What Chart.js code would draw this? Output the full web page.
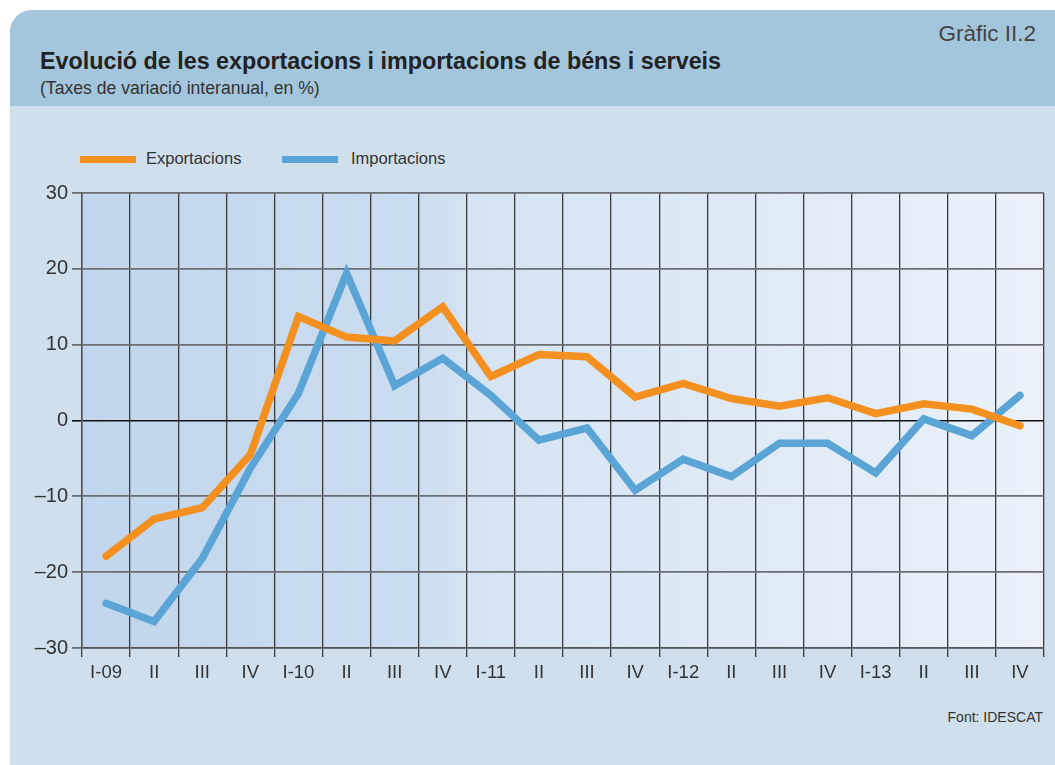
<!DOCTYPE html>
<html>
<head>
<meta charset="utf-8">
<script src="https://cdn.jsdelivr.net/npm/chart.js@4/dist/chart.umd.min.js"></script>
<style>
  body { margin: 0; background: #fff; font-family: "Liberation Sans", Arial, sans-serif; }
  #panel { position: absolute; left: 10px; top: 10px; width: 1045px; height: 755px;
           background: #cfe0ec; border-top-left-radius: 22px; overflow: hidden; }
  #header { position: absolute; left: 0; top: 0; width: 100%; height: 96px; background: #a3c6dc; }
  #title { position: absolute; left: 30px; top: 38px; font-size: 23.3px; font-weight: bold; color: #222; }
  #subtitle { position: absolute; left: 30px; top: 68px; font-size: 17.6px; color: #333; }
  #num { position: absolute; right: 19px; top: 11px; font-size: 22.5px; color: #444; }
  .leg { position: absolute; top: 139px; font-size: 16.5px; color: #333; }
  .sw { position: absolute; top: 146px; height: 7px; width: 56px; }
  #source { position: absolute; right: 12px; top: 699px; font-size: 14px; color: #333; }
  canvas { position: absolute; left: 0; top: 0; }
</style>
</head>
<body>
<div id="panel">
  <div id="header"></div>
  <div id="title">Evolució de les exportacions i importacions de béns i serveis</div>
  <div id="subtitle">(Taxes de variació interanual, en %)</div>
  <div id="num">Gràfic II.2</div>
  <div class="sw" style="left:70px;background:#f39020"></div>
  <div class="leg" style="left:136px">Exportacions</div>
  <div class="sw" style="left:272px;background:#5aa4d6"></div>
  <div class="leg" style="left:341px">Importacions</div>
  <div id="source">Font: IDESCAT</div>
</div>
<canvas id="chart" width="1055" height="765"></canvas>
<script>
const quarters = ['I-09','II','III','IV','I-10','II','III','IV','I-11','II','III','IV','I-12','II','III','IV','I-13','II','III','IV'];
const exportacions = [-17.9,-13.0,-11.5,-4.5,13.7,11.0,10.5,15.0,5.8,8.7,8.4,3.1,4.9,2.9,1.9,3.0,0.9,2.2,1.5,-0.7];
const importacions = [-24.1,-26.5,-18.2,-6.3,3.6,19.4,4.6,8.2,3.3,-2.6,-1.0,-9.2,-5.1,-7.4,-3.0,-3.0,-6.9,0.2,-2.0,3.3];
const yTicks = [-30,-20,-10,0,10,20,30];

const plotBg = {
  id: 'plotBg',
  beforeDraw(chart) {
    const {ctx, chartArea: a} = chart;
    const g = ctx.createLinearGradient(a.left, 0, a.right, 0);
    g.addColorStop(0, '#c1d6ec');
    g.addColorStop(0.35, '#cbddf0');
    g.addColorStop(0.4, '#d5e3f2');
    g.addColorStop(1, '#eaf1f9');
    ctx.save();
    ctx.fillStyle = g;
    ctx.fillRect(a.left, a.top, a.right - a.left, a.bottom - a.top);
    ctx.restore();
  }
};

new Chart(document.getElementById('chart'), {
  type: 'line',
  data: {
    labels: quarters,
    datasets: [
      { label: 'Exportacions', data: exportacions, borderColor: '#f39020', borderWidth: 7.5,
        pointRadius: 0, borderCapStyle: 'round', tension: 0 },
      { label: 'Importacions', data: importacions, borderColor: '#5aa4d6', borderWidth: 7.5,
        pointRadius: 0, borderCapStyle: 'round', tension: 0 }
    ]
  },
  options: {
    responsive: false,
    animation: false,
    layout: { padding: { top: 193, right: 11, left: 0, bottom: 0 } },
    plugins: { legend: { display: false }, tooltip: { enabled: false } },
    scales: {
      x: {
        offset: true,
        grid: { offset: true, color: '#3a3a3a', lineWidth: 1.3, tickLength: 9, drawOnChartArea: true },
        border: { color: '#555', width: 1.5 },
        ticks: { color: '#333', font: { family: 'Liberation Sans', size: 18.5 }, padding: 5, maxRotation: 0, autoSkip: false },
        afterFit(s) { s.height = 117; }
      },
      y: {
        min: -30, max: 30,
        afterBuildTicks(s) { s.ticks = yTicks.map(v => ({ value: v })); },
        grid: {
          color: ctx => ctx.tick && ctx.tick.value === 0 ? '#111' : '#6b6e72',
          lineWidth: ctx => ctx.tick && ctx.tick.value === 0 ? 1.6 : 1.8,
          tickLength: 10
        },
        border: { color: '#555', width: 1.5 },
        ticks: {
          color: '#333', font: { family: 'Liberation Sans', size: 20 }, padding: 4,
          callback: v => v < 0 ? '\u2013' + Math.abs(v) : String(v)
        },
        afterFit(s) { s.width = 82; }
      }
    }
  },
  plugins: [plotBg]
});
</script>
</body>
</html>
